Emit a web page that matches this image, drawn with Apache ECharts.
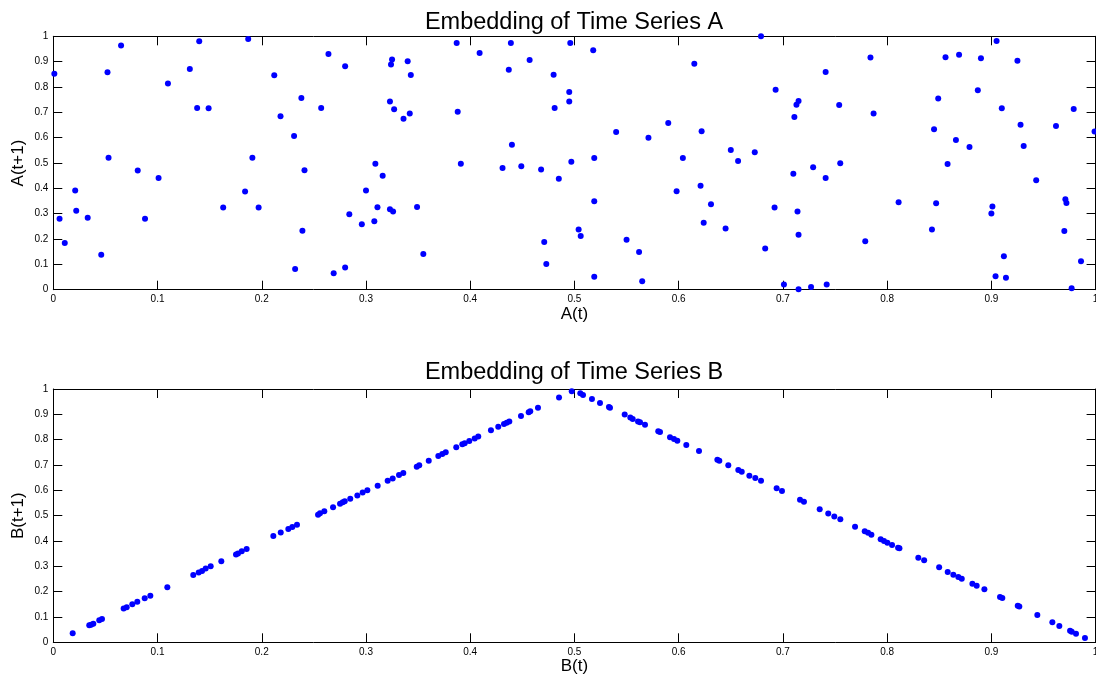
<!DOCTYPE html>
<html>
<head>
<meta charset="utf-8">
<script src="https://cdn.jsdelivr.net/npm/echarts@6/dist/echarts.min.js"></script>
<style>html,body{margin:0;padding:0;background:#fff}#c{width:1096px;height:680px}</style>
</head>
<body>
<div id="c"></div>
<script>
// ---- Data: Time Series A embedding (A(t), A(t+1)) ----
const aX = [0.001,0.065,0.052,0.131,0.140,0.110,0.138,0.149,0.187,0.053,0.081,0.101,0.191,0.021,0.022,0.006,0.033,0.088,0.011,0.046,0.163,0.184,0.197,
  0.264,0.280,0.212,0.325,0.324,0.340,0.343,0.387,0.238,0.257,0.218,0.323,0.327,0.336,0.342,0.388,0.231,0.309,0.391,0.241,0.316,0.300,0.311,0.323,0.326,0.349,0.284,0.296,0.308,0.239,0.355,0.232,0.269,0.280,
  0.439,0.496,0.409,0.518,0.457,0.437,0.480,0.495,0.495,0.481,0.590,0.540,0.571,0.440,0.519,0.497,0.431,0.449,0.468,0.485,0.598,0.519,0.504,0.506,0.550,0.471,0.562,0.473,0.519,0.565,
  0.679,0.615,0.784,0.741,0.693,0.715,0.713,0.754,0.787,0.711,0.622,0.650,0.673,0.604,0.657,0.755,0.729,0.710,0.741,0.621,0.631,0.692,0.714,0.624,0.645,0.715,0.779,0.683,0.701,0.715,0.727,0.742,
  0.905,0.856,0.869,0.890,0.925,0.887,0.849,0.910,0.979,0.928,0.962,0.845,0.999,0.866,0.879,0.931,0.858,0.943,0.811,0.847,0.971,0.972,0.901,0.900,0.843,0.970,0.912,0.986,0.904,0.914,0.977];
const aY = [0.852,0.964,0.858,0.871,0.980,0.814,0.717,0.716,0.989,0.521,0.470,0.441,0.521,0.391,0.312,0.280,0.284,0.280,0.184,0.138,0.324,0.388,0.324,
  0.930,0.882,0.846,0.908,0.889,0.902,0.847,0.974,0.757,0.717,0.684,0.743,0.712,0.675,0.695,0.702,0.607,0.497,0.497,0.471,0.450,0.391,0.325,0.317,0.309,0.326,0.298,0.258,0.270,0.233,0.141,0.082,0.065,0.088,
  0.974,0.974,0.934,0.945,0.906,0.868,0.848,0.780,0.743,0.717,0.658,0.622,0.600,0.572,0.520,0.505,0.480,0.487,0.474,0.438,0.389,0.349,0.238,0.212,0.197,0.188,0.149,0.101,0.051,0.033,
  1.000,0.892,0.916,0.859,0.789,0.745,0.730,0.729,0.695,0.682,0.625,0.551,0.542,0.520,0.508,0.499,0.483,0.458,0.441,0.410,0.337,0.324,0.309,0.264,0.242,0.217,0.191,0.163,0.021,0.002,0.011,0.021,
  0.981,0.917,0.927,0.913,0.904,0.787,0.755,0.716,0.713,0.651,0.646,0.633,0.624,0.591,0.563,0.567,0.496,0.432,0.345,0.341,0.357,0.342,0.328,0.301,0.238,0.232,0.132,0.112,0.053,0.047,0.006];

// ---- Data: Time Series B embedding (B(t), B(t+1)) ----
const bX = [0.0186,0.0345,0.0362,0.0384,0.0441,0.0467,0.0675,0.0704,0.0758,0.0806,0.0877,0.0931,0.1094,0.1343,0.1395,0.1427,0.1462,0.1510,0.1612,0.1753,0.1772,0.1808,0.1855,0.2111,0.2182,0.2255,0.2293,0.2338,0.2540,0.2559,0.2600,0.2684,0.2751,0.2777,0.2796,0.2849,0.2917,0.2968,0.3013,0.3112,0.3208,0.3256,0.3317,
  0.3358,0.3487,0.3511,0.3602,0.3694,0.3732,0.3765,0.3866,0.3924,0.3947,0.3991,0.4043,0.4077,0.4199,0.4269,0.4324,0.4350,0.4375,0.4487,0.4561,0.4576,0.4650,0.4852,0.4974,0.5056,0.5082,0.5168,0.5245,0.5331,0.5341,0.5482,0.5536,0.5559,0.5610,0.5629,0.5677,0.5804,0.5821,0.5917,0.5955,0.5987,0.6073,0.6195,0.6371,0.6390,0.6476,0.6572,0.6605,0.6678,
  0.6735,0.6790,0.6940,0.6991,0.7164,0.7202,0.7353,0.7435,0.7493,0.7551,0.7692,0.7785,0.7817,0.7849,0.7938,0.7970,0.8002,0.8047,0.8105,0.8118,0.8299,0.8355,0.8499,0.8581,0.8635,0.8683,0.8716,0.8818,0.8859,0.8933,0.9083,0.9105,0.9253,0.9268,0.9441,0.9585,0.9652,0.9755,0.9771,0.9812,0.9898];
const bY = [0.036,0.067,0.069,0.073,0.087,0.092,0.133,0.138,0.150,0.160,0.174,0.184,0.217,0.266,0.276,0.281,0.291,0.300,0.320,0.347,0.351,0.359,0.368,0.420,0.433,0.447,0.455,0.464,0.504,0.509,0.517,0.533,0.547,0.553,0.557,0.567,0.580,0.591,0.600,0.618,0.638,0.647,0.660,
  0.668,0.693,0.699,0.717,0.735,0.743,0.750,0.770,0.782,0.786,0.795,0.805,0.812,0.837,0.851,0.862,0.867,0.872,0.893,0.908,0.912,0.926,0.966,0.991,0.983,0.976,0.961,0.945,0.929,0.926,0.899,0.887,0.882,0.872,0.869,0.859,0.833,0.830,0.810,0.803,0.796,0.779,0.755,0.721,0.717,0.699,0.680,0.673,0.658,
  0.649,0.638,0.608,0.597,0.563,0.555,0.525,0.508,0.497,0.486,0.456,0.438,0.432,0.425,0.407,0.400,0.393,0.384,0.373,0.371,0.334,0.324,0.296,0.278,0.267,0.258,0.251,0.231,0.223,0.209,0.179,0.175,0.144,0.141,0.108,0.079,0.064,0.046,0.042,0.034,0.017];

const titles = ['Embedding of Time Series A', 'Embedding of Time Series B'];
const xNames = ['A(t)', 'B(t)'];
const yNames = ['A(t+1)', 'B(t+1)'];

const FONT = '"Liberation Sans", Arial, Helvetica, sans-serif';
const fmt = v => String(Math.round(v * 10) / 10);

function axisBase(gridIndex, position, showLabel) {
  return {
    gridIndex, position, type: 'value', min: 0, max: 1, interval: 0.1,
    axisLine: { show: true, onZero: false, lineStyle: { color: '#000', width: 1 } },
    axisTick: { show: true, inside: true, length: 9, lineStyle: { color: '#000', width: 1 } },
    axisLabel: { show: showLabel, fontSize: 10, color: '#000', fontFamily: FONT, margin: 5, formatter: fmt },
    splitLine: { show: false }
  };
}

const grids = [
  { left: 53.3, top: 36.3, width: 1042.3, height: 253.4, outerBoundsMode: 'none', containLabel: false },
  { left: 53.3, top: 389, width: 1042.3, height: 253.3, outerBoundsMode: 'none', containLabel: false }
];

const xAxes = [], yAxes = [];
[0, 1].forEach(g => {
  xAxes.push(Object.assign(axisBase(g, 'bottom', true), {
    name: xNames[g], nameLocation: 'middle', nameGap: 16, nameMoveOverlap: false,
    nameTextStyle: { fontSize: 17, color: '#000', fontFamily: FONT }
  }));
  xAxes.push(axisBase(g, 'top', false));
  yAxes.push(Object.assign(axisBase(g, 'left', true), {
    name: yNames[g], nameLocation: 'middle', nameGap: 26, nameMoveOverlap: false,
    nameTextStyle: { fontSize: 17, color: '#000', fontFamily: FONT }
  }));
  yAxes.push(axisBase(g, 'right', false));
});

const seriesA = aX.map((x, i) => [x, aY[i]]);
const seriesB = bX.map((x, i) => [x, bY[i]]);

const option = {
  animation: false,
  backgroundColor: '#fff',
  title: [
    { text: titles[0], left: 569, top: 6, textAlign: 'center',
      textStyle: { fontSize: 23.5, fontWeight: 'normal', color: '#000', fontFamily: FONT } },
    { text: titles[1], left: 569, top: 356, textAlign: 'center',
      textStyle: { fontSize: 23.5, fontWeight: 'normal', color: '#000', fontFamily: FONT } }
  ],
  grid: grids,
  xAxis: xAxes,
  yAxis: yAxes,
  series: [
    { type: 'scatter', xAxisIndex: 0, yAxisIndex: 0, data: seriesA, symbol: 'circle', symbolSize: 6,
      itemStyle: { color: '#0000ff', opacity: 1 }, clip: false },
    { type: 'scatter', xAxisIndex: 2, yAxisIndex: 2, data: seriesB, symbol: 'circle', symbolSize: 6,
      itemStyle: { color: '#0000ff', opacity: 1 }, clip: false }
  ]
};

const chart = echarts.init(document.getElementById('c'), null, { renderer: 'canvas' });
chart.setOption(option);
</script>
</body>
</html>
